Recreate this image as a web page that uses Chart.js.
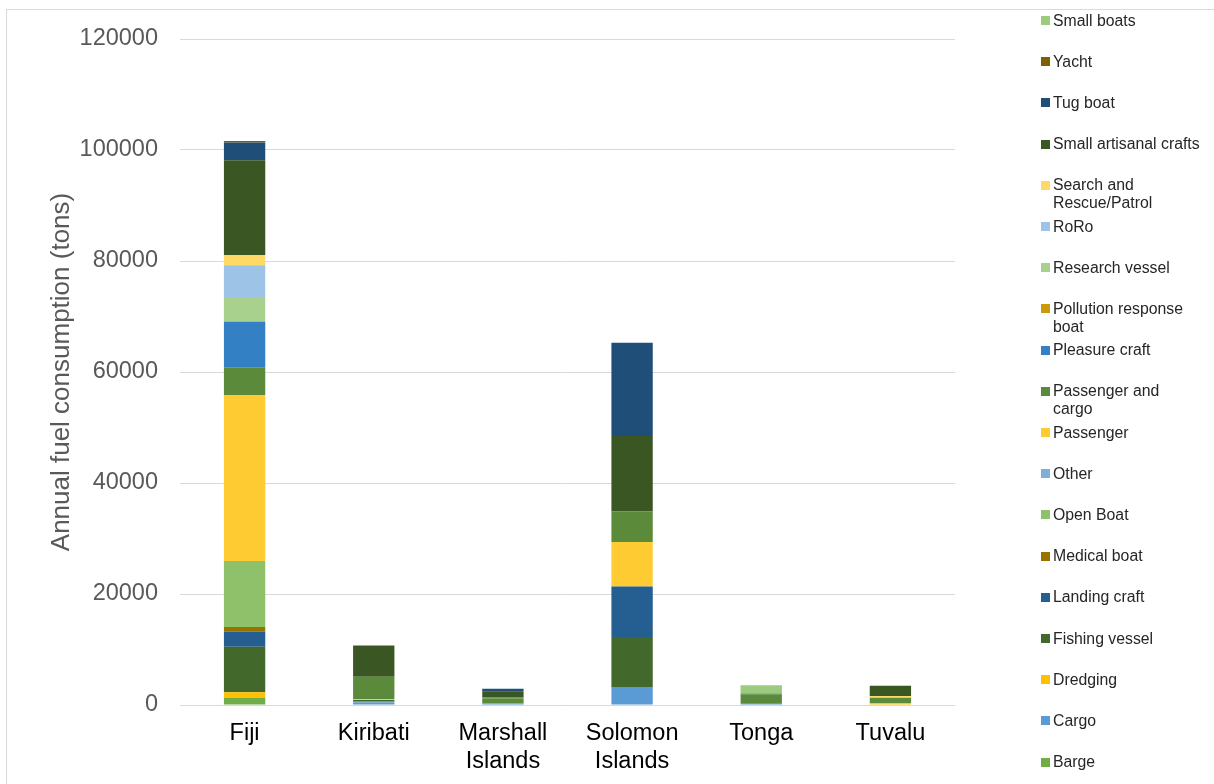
<!DOCTYPE html>
<html lang="en">
<head>
    <meta charset="UTF-8">
    <title>Annual fuel consumption by vessel type</title>
    <script src="https://cdn.jsdelivr.net/npm/chart.js"></script>
    <style>
body {
    margin: 0;
    background: #fff;
    font-family: "Liberation Sans", Arial, sans-serif;
    overflow: hidden;
}

.frame {
    position: absolute;
    left: 6px;
    top: 9px;
    width: 1300px;
    height: 900px;
    border: 1px solid #d9d9d9;
}

.wrap {
    position: absolute;
    left: 0;
    top: 0;
    width: 1214px;
    height: 784px;
}

#legend {
    position: absolute;
    left: 0;
    top: 0;
}

.item {
    position: absolute;
    left: 1053px;
    font-size: 15.8px;
    line-height: 18px;
    color: #262626;
    white-space: nowrap;
}

.item span {
    position: absolute;
    left: -12px;
    top: 4.5px;
    width: 9px;
    height: 9px;
}
    </style>
</head>
<body>
    <div class="frame"></div>
    <div class="wrap">
        <canvas id="fuelChart" width="1214" height="784"></canvas>
    </div>
    <div id="legend"></div>
    <script>
// countries: Fiji, Kiribati, Marshall Islands, Solomon Islands, Tonga, Tuvalu
const countries = ['Fiji', 'Kiribati', ['Marshall', 'Islands'], ['Solomon', 'Islands'], 'Tonga', 'Tuvalu'];

const barge        = [1300, 0, 0, 0, 0, 0];
const cargo        = [0, 500, 250, 3250, 350, 0];
const dredging     = [1000, 100, 0, 0, 0, 300];
const fishing      = [8200, 300, 0, 9000, 0, 0];
const landing      = [2700, 0, 0, 9100, 0, 0];
const medical      = [850, 0, 0, 0, 0, 0];
const openBoat     = [11900, 0, 0, 0, 0, 0];
const other        = [0, 0, 0, 0, 0, 0];
const passenger    = [29900, 200, 0, 8000, 0, 0];
const passCargo    = [4900, 4000, 950, 5500, 1600, 1000];
const pleasure     = [8300, 0, 0, 0, 100, 0];
const pollution    = [100, 0, 0, 0, 0, 0];
const research     = [4200, 0, 100, 0, 0, 0];
const roro         = [5900, 0, 0, 0, 0, 0];
const searchRescue = [1800, 0, 0, 0, 0, 300];
const artisanal    = [17100, 5600, 1100, 13600, 0, 1850];
const tugBoat      = [3200, 0, 550, 16800, 0, 0];
const yacht        = [250, 0, 0, 0, 0, 0];
const smallBoats   = [0, 0, 0, 0, 1500, 0];

const yTicks = [0, 20000, 40000, 60000, 80000, 100000, 120000];

// stacked from the bottom up
const series = [
    ['Barge', barge, '#70AD47'],
    ['Cargo', cargo, '#5B9BD5'],
    ['Dredging', dredging, '#FFC000'],
    ['Fishing vessel', fishing, '#43682B'],
    ['Landing craft', landing, '#255E91'],
    ['Medical boat', medical, '#997300'],
    ['Open Boat', openBoat, '#8FC16A'],
    ['Other', other, '#7CAFDD'],
    ['Passenger', passenger, '#FFCB33'],
    [['Passenger and', 'cargo'], passCargo, '#5A8A3A'],
    ['Pleasure craft', pleasure, '#3480C4'],
    [['Pollution response', 'boat'], pollution, '#C99A0A'],
    ['Research vessel', research, '#A9D18E'],
    ['RoRo', roro, '#9DC3E6'],
    [['Search and', 'Rescue/Patrol'], searchRescue, '#FFD966'],
    ['Small artisanal crafts', artisanal, '#3A5623'],
    ['Tug boat', tugBoat, '#1F4E79'],
    ['Yacht', yacht, '#7F6000'],
    ['Small boats', smallBoats, '#9BCB7D']
];

const font = '"Liberation Sans", Arial, sans-serif';

const ctx = document.getElementById('fuelChart').getContext('2d');
const fuelChart = new Chart(ctx, {
    type: 'bar',
    data: {
        labels: countries,
        datasets: series.map(s => ({
            label: s[0],
            data: s[1],
            backgroundColor: s[2],
            borderWidth: 0,
            barPercentage: 1,
            categoryPercentage: 0.32
        }))
    },
    options: {
        responsive: false,
        animation: false,
        layout: {
            padding: { top: 39, right: 259, left: 0, bottom: 0 }
        },
        plugins: {
            legend: { display: false },
            tooltip: { enabled: false }
        },
        scales: {
            x: {
                stacked: true,
                grid: { display: false, drawTicks: false },
                border: { display: false },
                ticks: {
                    color: '#000',
                    padding: 14,
                    font: { family: font, size: 23.5 }
                },
                afterFit: scale => { scale.height = 79; }
            },
            y: {
                stacked: true,
                min: 0,
                max: 120000,
                afterBuildTicks: scale => { scale.ticks = yTicks.map(v => ({ value: v })); },
                grid: { color: '#d9d9d9', lineWidth: 1, drawTicks: false },
                border: { display: false },
                ticks: {
                    color: '#595959',
                    padding: 22,
                    font: { family: font, size: 23.5 },
                    callback: v => String(v)
                },
                title: {
                    display: true,
                    text: 'Annual fuel consumption (tons)',
                    color: '#595959',
                    padding: { top: 46, bottom: 0 },
                    font: { family: font, size: 26, weight: 'normal' }
                },
                afterFit: scale => { scale.width = 180; }
            }
        }
    }
});

// legend on the right, top entry is the last series
const legend = document.getElementById('legend');
series.slice().reverse().forEach((s, i) => {
    const div = document.createElement('div');
    div.className = 'item';
    div.style.top = (20.5 + i * 41.2 - 9) + 'px';
    const lines = Array.isArray(s[0]) ? s[0] : [s[0]];
    div.innerHTML = '<span style="background:' + s[2] + '"></span>' + lines.join('<br>');
    legend.appendChild(div);
});
    </script>
</body>
</html>
